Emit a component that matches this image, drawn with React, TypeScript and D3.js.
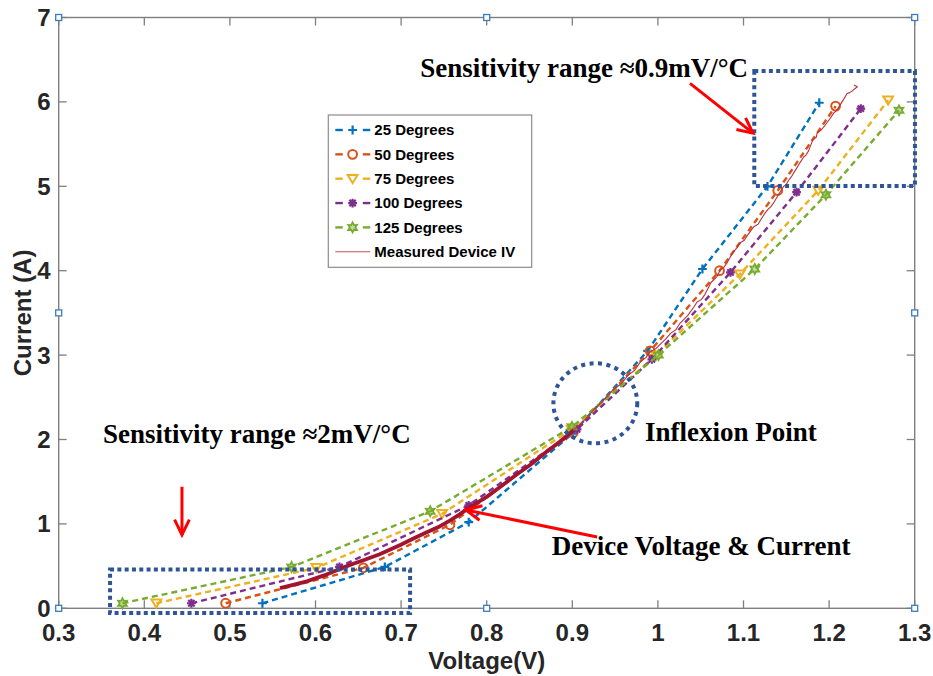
import * as d3 from "d3";

const W = 933;
const H = 676;

// axis ticks
const voltTicks = [0.3, 0.4, 0.5, 0.6, 0.7, 0.8, 0.9, 1.0, 1.1, 1.2, 1.3];
const voltTickLabels = ["0.3", "0.4", "0.5", "0.6", "0.7", "0.8", "0.9", "1", "1.1", "1.2", "1.3"];
const currTicks = [0, 1, 2, 3, 4, 5, 6, 7];
const currTickLabels = ["0", "1", "2", "3", "4", "5", "6", "7"];

// simulated curves (V, A)
const seriesNames = ["25 Degrees", "50 Degrees", "75 Degrees", "100 Degrees", "125 Degrees"];
const seriesColors = ["#0072BD", "#D95319", "#EDB120", "#7E2F8E", "#77AC30"];
const seriesMarkers = ["plus", "circle", "triangle", "star", "hexagram"];

const deg25V = [0.538, 0.681, 0.779, 0.900, 0.988, 1.052, 1.128, 1.1885];
const deg25I = [0.06, 0.49, 1.02, 2.07, 3.05, 4.02, 5.00, 5.99];
const deg50V = [0.495, 0.656, 0.757, 0.901, 0.991, 1.072, 1.140, 1.2076];
const deg50I = [0.06, 0.48, 0.99, 2.08, 3.05, 4.00, 4.95, 5.95];
const deg75V = [0.414, 0.601, 0.748, 0.899, 0.998, 1.0957, 1.1873, 1.269];
const deg75I = [0.06, 0.48, 1.12, 2.12, 3.00, 3.96, 4.95, 6.02];
const deg100V = [0.455, 0.628, 0.779, 0.9055, 0.993, 1.0848, 1.162, 1.237];
const deg100I = [0.06, 0.49, 1.22, 2.12, 2.95, 3.98, 4.93, 5.92];
const deg125V = [0.3745, 0.572, 0.734, 0.8996, 1.0006, 1.1132, 1.1963, 1.2817];
const deg125I = [0.06, 0.49, 1.15, 2.15, 3.00, 4.02, 4.90, 5.90];

const seriesV = [deg25V, deg50V, deg75V, deg100V, deg125V];
const seriesI = [deg25I, deg50I, deg75I, deg100I, deg125I];

// measured device IV
const measuredName = "Measured Device IV";
const measuredV = [
  0.5585, 0.575, 0.59, 0.61, 0.629, 0.645, 0.656, 0.675, 0.699, 0.715, 0.73, 0.745, 0.757, 0.768,
  0.779, 0.80, 0.816, 0.833, 0.851, 0.868, 0.885, 0.9015,
  0.914, 0.925, 0.936, 0.948, 0.957, 0.965, 0.973, 0.9795, 0.986, 0.99, 0.998, 1.005, 1.009, 1.015,
  1.021, 1.026, 1.031, 1.035, 1.042, 1.0458, 1.051, 1.055, 1.058, 1.062, 1.069, 1.073, 1.077, 1.08,
  1.085, 1.088, 1.093, 1.096, 1.101, 1.104, 1.109, 1.112, 1.117, 1.12, 1.125, 1.128, 1.132, 1.135,
  1.142, 1.147, 1.150, 1.152, 1.157, 1.16, 1.166, 1.1706, 1.173, 1.176, 1.179, 1.181, 1.185, 1.186,
  1.191, 1.195, 1.201, 1.2056, 1.208, 1.212, 1.217, 1.221, 1.224, 1.227, 1.233, 1.229
];
const measuredI = [
  0.24, 0.28, 0.32, 0.39, 0.47, 0.53, 0.57, 0.64, 0.75, 0.83, 0.90, 0.97, 1.04, 1.11,
  1.19, 1.32, 1.44, 1.57, 1.70, 1.84, 1.97, 2.11,
  2.23, 2.35, 2.46, 2.59, 2.66, 2.76, 2.82, 2.92, 2.97, 3.03, 3.08, 3.15, 3.19, 3.26,
  3.30, 3.38, 3.43, 3.47, 3.57, 3.63, 3.66, 3.72, 3.78, 3.86, 3.93, 4.01, 4.04, 4.08,
  4.17, 4.22, 4.28, 4.33, 4.36, 4.41, 4.48, 4.52, 4.55, 4.60, 4.68, 4.72, 4.76, 4.80,
  4.92, 5.00, 5.02, 5.06, 5.13, 5.18, 5.28, 5.35, 5.37, 5.42, 5.50, 5.55, 5.58, 5.63,
  5.67, 5.72, 5.80, 5.87, 5.89, 5.95, 6.03, 6.10, 6.11, 6.13, 6.18, 6.20
];
const thickUntilV = 0.9015;

// annotations, in data units (V, A)
const boxes = [
  {v0: 0.36, v1: 0.7105, i0: -0.056, i1: 0.46},
  {v0: 1.1126, v1: 1.3003, i0: 5.004, i1: 6.366},
];
const ellipseAnn = {v: 0.9269, i: 2.429, rv: 0.049, ri: 0.474};
const arrows = [
  {v0: 1.0375, i0: 6.22, v1: 1.1111, i1: 5.63},
  {v0: 0.444, i0: 1.44, v1: 0.444, i1: 0.87},
  {v0: 0.929, i0: 0.845, v1: 0.7758, i1: 1.165},
];
const labels = [
  {text: "Sensitivity range \u22480.9mV/\u00B0C", v: 0.7224, i: 6.30},
  {text: "Sensitivity range \u22482mV/\u00B0C", v: 0.3518, i: 1.96},
  {text: "Inflexion Point", v: 0.985, i: 1.98},
  {text: "Device Voltage & Current", v: 0.876, i: 0.632},
];

const annColor = "#2e5597";
const arrowColor = "#ff0000";
const axisColor = "#7f7f7f";
const sansFont = "'Liberation Sans', Arial, sans-serif";
const serifFont = "'Liberation Serif', 'Times New Roman', serif";

const left = 58.7, right = 914.7, top = 17.5, bottom = 608.3;

function Marker({kind, x, y, color}: any) {
  const s = 4.4;
  if (kind === "plus") {
    return <path d={`M${x - s},${y}H${x + s}M${x},${y - s}V${y + s}`} stroke={color} strokeWidth={2.2} fill="none" />;
  }
  if (kind === "circle") {
    return <circle cx={x} cy={y} r={s} stroke={color} strokeWidth={2} fill="none" />;
  }
  if (kind === "triangle") {
    return <path d={`M${x - s - 0.5},${y - s + 0.7}L${x + s + 0.5},${y - s + 0.7}L${x},${y + s}Z`} stroke={color} strokeWidth={2} fill="none" />;
  }
  if (kind === "star") {
    const d = s * 0.72;
    return <path d={`M${x - s},${y}H${x + s}M${x},${y - s}V${y + s}M${x - d},${y - d}L${x + d},${y + d}M${x - d},${y + d}L${x + d},${y - d}`} stroke={color} strokeWidth={2.2} fill="none" />;
  }
  // hexagram
  const pts: string[] = [];
  for (let k = 0; k < 12; k++) {
    const r = k % 2 === 0 ? s + 0.6 : s * 0.62;
    const a = (Math.PI / 6) * k - Math.PI / 2;
    pts.push(`${x + r * Math.cos(a)},${y + r * Math.sin(a)}`);
  }
  return <polygon points={pts.join(" ")} stroke={color} strokeWidth={1.8} fill={color} fillOpacity={0.45} />;
}

function Arrow({x0, y0, x1, y1}: any) {
  const ang = Math.atan2(y1 - y0, x1 - x0);
  const len = 17;
  const spread = 0.45;
  const ax = x1 - len * Math.cos(ang - spread);
  const ay = y1 - len * Math.sin(ang - spread);
  const bx = x1 - len * Math.cos(ang + spread);
  const by = y1 - len * Math.sin(ang + spread);
  return (
    <g stroke={arrowColor} strokeWidth={3} fill="none" strokeLinecap="butt">
      <line x1={x0} y1={y0} x2={x1} y2={y1} />
      <path d={`M${ax},${ay}L${x1},${y1}L${bx},${by}`} />
    </g>
  );
}

function Handle({x, y}: any) {
  return <rect x={x - 3} y={y - 3} width={6} height={6} fill="#ffffff" stroke="#3b7cc0" strokeWidth={1.3} />;
}

export default function App() {
  const xScale = d3.scaleLinear().domain([0.3, 1.3]).range([left, right]);
  const yScale = d3.scaleLinear().domain([0, 7]).range([bottom, top]);

  const line = d3.line<[number, number]>()
    .x((d) => xScale(d[0]))
    .y((d) => yScale(d[1]));

  const measuredPts: [number, number][] = measuredV.map((v, k) => [v, measuredI[k]]);
  const thickPts = measuredPts.filter((p) => p[0] <= thickUntilV);
  const thinPts = measuredPts.slice(thickPts.length - 1);

  const midX = xScale(0.8);
  const midY = yScale(3.5);
  const tickLen = 8;

  const legX = 328.3, legY = 115, legW = 203.4, legH = 152.3;
  const rowH = 24.35;

  return (
    <div style={{position: "absolute", left: 0, top: 0}}>
      <svg width={W} height={H} style={{display: "block", background: "#ffffff"}}>
        {/* axes box */}
        <rect x={left} y={top} width={right - left} height={bottom - top} fill="none" stroke={axisColor} strokeWidth={1.4} />
        {voltTicks.map((t, k) => (
          <g key={"xt" + k}>
            <line x1={xScale(t)} x2={xScale(t)} y1={bottom} y2={bottom - tickLen} stroke={axisColor} strokeWidth={1.3} />
            <line x1={xScale(t)} x2={xScale(t)} y1={top} y2={top + tickLen} stroke={axisColor} strokeWidth={1.3} />
            <text x={xScale(t)} y={bottom + 33} textAnchor="middle" fontFamily={sansFont} fontWeight="bold" fontSize={24} fill="#262626">
              {voltTickLabels[k]}
            </text>
          </g>
        ))}
        {currTicks.map((t, k) => (
          <g key={"yt" + k}>
            <line x1={left} x2={left + tickLen} y1={yScale(t)} y2={yScale(t)} stroke={axisColor} strokeWidth={1.3} />
            <line x1={right} x2={right - tickLen} y1={yScale(t)} y2={yScale(t)} stroke={axisColor} strokeWidth={1.3} />
            <text x={left - 8} y={yScale(t) + 8.5} textAnchor="end" fontFamily={sansFont} fontWeight="bold" fontSize={24} fill="#262626">
              {currTickLabels[k]}
            </text>
          </g>
        ))}
        <text x={midX} y={669} textAnchor="middle" fontFamily={sansFont} fontWeight="bold" fontSize={24} fill="#262626">Voltage(V)</text>
        <text transform={`translate(31,${midY}) rotate(-90)`} textAnchor="middle" fontFamily={sansFont} fontWeight="bold" fontSize={24} fill="#262626">Current (A)</text>

        {/* simulated curves */}
        {seriesV.map((vs, s) => {
          const pts: [number, number][] = vs.map((v, k) => [v, seriesI[s][k]]);
          return (
            <g key={"s" + s}>
              <path d={line(pts) || ""} fill="none" stroke={seriesColors[s]} strokeWidth={2.4} strokeDasharray="6 4" />
              {pts.map((p, k) => (
                <Marker key={k} kind={seriesMarkers[s]} x={xScale(p[0])} y={yScale(p[1])} color={seriesColors[s]} />
              ))}
            </g>
          );
        })}

        {/* measured */}
        <path d={line(thickPts) || ""} fill="none" stroke="#A2142F" strokeWidth={3.8} strokeLinejoin="round" />
        <path d={line(thinPts) || ""} fill="none" stroke="#b8323f" strokeWidth={1.1} strokeLinejoin="round" />

        {/* annotations */}
        {boxes.map((b, k) => (
          <rect key={"b" + k}
            x={xScale(b.v0)} y={yScale(b.i1)}
            width={xScale(b.v1) - xScale(b.v0)} height={yScale(b.i0) - yScale(b.i1)}
            fill="none" stroke={annColor} strokeWidth={4} strokeDasharray="4 3.3" />
        ))}
        <ellipse cx={xScale(ellipseAnn.v)} cy={yScale(ellipseAnn.i)}
          rx={xScale(ellipseAnn.v + ellipseAnn.rv) - xScale(ellipseAnn.v)}
          ry={yScale(ellipseAnn.i) - yScale(ellipseAnn.i + ellipseAnn.ri)}
          fill="none" stroke={annColor} strokeWidth={4} strokeDasharray="4 4.5" />
        {arrows.map((a, k) => (
          <Arrow key={"a" + k} x0={xScale(a.v0)} y0={yScale(a.i0)} x1={xScale(a.v1)} y1={yScale(a.i1)} />
        ))}
        {labels.map((l, k) => (
          <text key={"l" + k} x={xScale(l.v)} y={yScale(l.i)} fontFamily={serifFont} fontWeight="bold" fontSize={27} fill="#000000">
            {l.text}
          </text>
        ))}

        {/* legend */}
        <rect x={legX} y={legY} width={legW} height={legH} fill="#ffffff" stroke="#8c8c8c" strokeWidth={1.2} />
        {seriesNames.map((name, k) => {
          const cy = legY + 15 + k * rowH;
          return (
            <g key={"lg" + k}>
              <line x1={legX + 7} x2={legX + 14.5} y1={cy} y2={cy} stroke={seriesColors[k]} strokeWidth={2.4} />
              <line x1={legX + 34.5} x2={legX + 42} y1={cy} y2={cy} stroke={seriesColors[k]} strokeWidth={2.4} />
              <Marker kind={seriesMarkers[k]} x={legX + 24.3} y={cy} color={seriesColors[k]} />
              <text x={legX + 46} y={cy + 5.3} fontFamily={sansFont} fontWeight="bold" fontSize={15} fill="#000000">{name}</text>
            </g>
          );
        })}
        <line x1={legX + 7} x2={legX + 42} y1={legY + 15 + 5 * rowH} y2={legY + 15 + 5 * rowH} stroke="#c0505a" strokeWidth={1.2} />
        <text x={legX + 46} y={legY + 15 + 5 * rowH + 5.3} fontFamily={sansFont} fontWeight="bold" fontSize={15} fill="#000000">{measuredName}</text>

        {/* edit handles */}
        <Handle x={left} y={top} />
        <Handle x={midX} y={top} />
        <Handle x={right} y={top} />
        <Handle x={left} y={midY} />
        <Handle x={right} y={midY} />
        <Handle x={left} y={bottom} />
        <Handle x={midX} y={bottom} />
        <Handle x={right} y={bottom} />
      </svg>
    </div>
  );
}
